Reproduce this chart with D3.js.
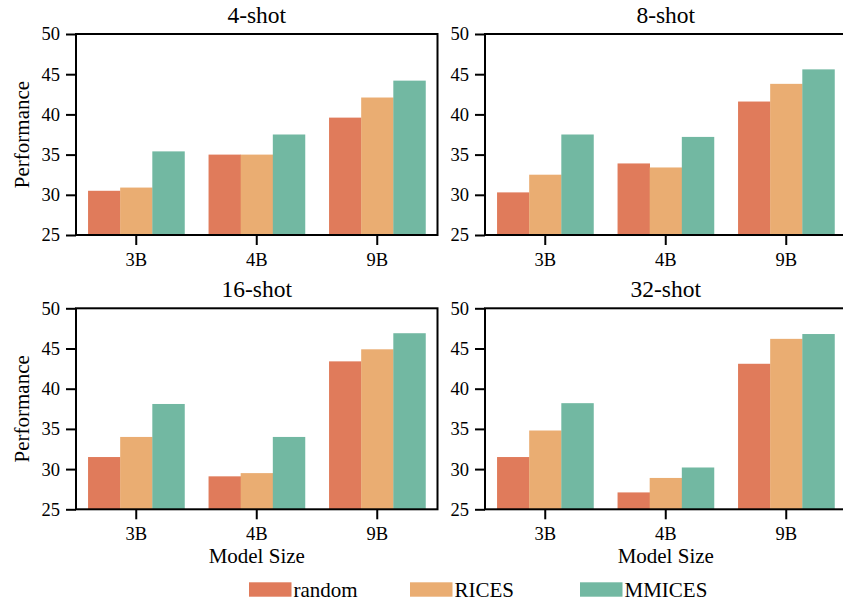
<!DOCTYPE html>
<html><head><meta charset="utf-8">
<script src="https://cdn.jsdelivr.net/npm/d3@7"></script>
<style>body{margin:0;background:#fff;} svg{display:block;} svg text{font-family:'Times New Roman','Liberation Serif',Tinos,Times,serif;}</style>
</head><body><svg id="c" width="843" height="606"></svg>
<script>
const categories = ["3B","4B","9B"];
const methods = ["random","RICES","MMICES"];
const colors = ["#E07B5B","#EAAD72","#72B8A2"];
const panelTitles = ["4-shot","8-shot","16-shot","32-shot"];
const yTicks = [25,30,35,40,45,50];
// values[method][category] per panel
const shot4  = { random:[30.5,35.0,39.6], RICES:[30.9,35.0,42.1], MMICES:[35.4,37.5,44.2] };
const shot8  = { random:[30.3,33.9,41.6], RICES:[32.5,33.4,43.8], MMICES:[37.5,37.2,45.6] };
const shot16 = { random:[31.5,29.1,43.4], RICES:[34.0,29.5,44.9], MMICES:[38.1,34.0,46.9] };
const shot32 = { random:[31.5,27.1,43.1], RICES:[34.8,28.9,46.2], MMICES:[38.2,30.2,46.8] };
const panelData = [shot4, shot8, shot16, shot32];

const FONT = "'Times New Roman','Liberation Serif',Tinos,Times,serif";
const svg = d3.select("#c");
const W = 361.5, H = 201;
const origins = [[76,34],[485,34],[76,308.3],[485,308.3]];

panelData.forEach((pd, i) => {
  const [ox, oy] = origins[i];
  const g = svg.append("g").attr("transform", `translate(${ox},${oy})`);
  const x = d3.scaleBand().domain(categories).range([0, W]).paddingInner(0.2).paddingOuter(0.1);
  const xs = d3.scaleBand().domain(methods).range([0, x.bandwidth()]);
  const y = d3.scaleLinear().domain([25, 50]).range([H, 0]);

  const grp = g.selectAll("g.cat").data(categories).join("g")
    .attr("transform", d => `translate(${x(d)},0)`);
  grp.selectAll("rect").data((c, ci) => methods.map((m, mi) => ({m, mi, v: pd[m][ci]})))
    .join("rect")
    .attr("x", d => xs(d.m)).attr("width", xs.bandwidth() + 0.3)
    .attr("y", d => y(d.v)).attr("height", d => H - y(d.v))
    .attr("fill", d => colors[d.mi]);

  const ya = g.append("g").call(d3.axisLeft(y).tickValues(yTicks).tickSize(10).tickPadding(6).tickSizeOuter(0));
  const xa = g.append("g").attr("transform", `translate(0,${H})`)
    .call(d3.axisBottom(x).tickSize(10).tickPadding(8).tickSizeOuter(0));
  [ya, xa].forEach(a => {
    a.attr("font-family", FONT);
    a.select(".domain").remove();
    a.selectAll(".tick line").attr("stroke", "#000").attr("stroke-width", 2);
    a.selectAll(".tick text").attr("fill", "#000").attr("font-size", 18.5).style("font-family", FONT);
  });
  g.append("rect").attr("x", 0).attr("y", 0).attr("width", W).attr("height", H)
    .attr("fill", "none").attr("stroke", "#000").attr("stroke-width", 2);

  g.append("text").attr("x", W / 2).attr("y", -11).attr("text-anchor", "middle")
    .style("font-family", FONT).style("font-size", "23.5px").text(panelTitles[i]);
  if (i % 2 === 0) {
    g.append("text").attr("transform", `translate(${-47},${H / 2}) rotate(-90)`)
      .attr("text-anchor", "middle").style("font-family", FONT).style("font-size", "21px").text("Performance");
  }
  if (i >= 2) {
    g.append("text").attr("x", W / 2).attr("y", H + 54).attr("text-anchor", "middle")
      .style("font-family", FONT).style("font-size", "21px").text("Model Size");
  }
});

const legendX = [249, 410, 580];
const lg = svg.append("g");
methods.forEach((m, i) => {
  lg.append("rect").attr("x", legendX[i]).attr("y", 582.3).attr("width", 42.5).attr("height", 14.4).attr("fill", colors[i]);
  lg.append("text").attr("x", legendX[i] + 44.5).attr("y", 596.5).style("font-family", FONT).style("font-size", "21px").text(m);
});
</script></body></html>
